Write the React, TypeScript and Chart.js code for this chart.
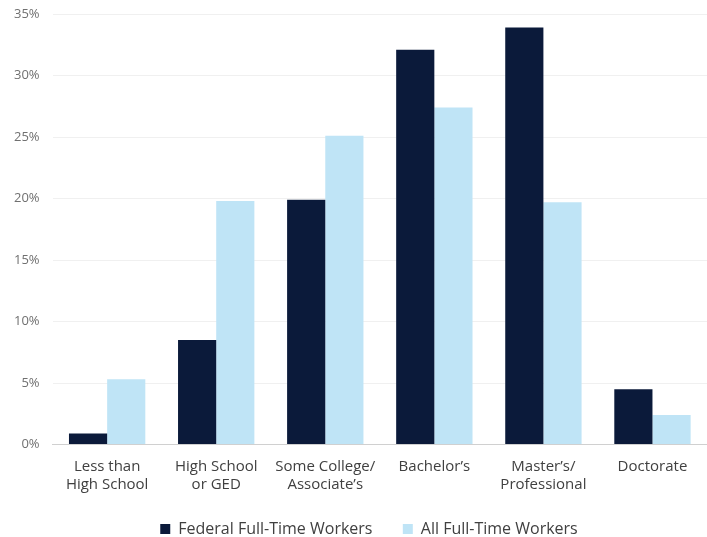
import React, { useEffect, useRef } from "react";
import { Chart, registerables } from "chart.js";

Chart.register(...registerables);

const categories: string[][] = [
  ["Less than", "High School"],
  ["High School", "or GED"],
  ["Some College/", "Associate’s"],
  ["Bachelor’s"],
  ["Master’s/", "Professional"],
  ["Doctorate"],
];
const federalValues = [0.9, 8.5, 19.9, 32.1, 33.9, 4.5];
const allValues = [5.3, 19.8, 25.1, 27.4, 19.7, 2.4];
const seriesNames = ["Federal Full-Time Workers  ", "All Full-Time Workers"];

const legendShift = {
  id: "legendShift",
  afterLayout(chart: any) {
    const l = chart.legend;
    if (l) {
      l.left += 15;
      l.right += 15;
    }
  },
};

export default function App() {
  const ref = useRef<HTMLCanvasElement | null>(null);
  useEffect(() => {
    document.body.style.margin = "0";
    const font = "'Open Sans', 'Noto Sans', sans-serif";
    const chart = new Chart(ref.current!, {
      type: "bar",
      data: {
        labels: categories,
        datasets: [
          { label: seriesNames[0], data: federalValues, backgroundColor: "#0b1a3a" },
          { label: seriesNames[1], data: allValues, backgroundColor: "#bfe4f6" },
        ],
      },
      plugins: [legendShift],
      options: {
        animation: false,
        responsive: false,
        maintainAspectRatio: false,
        layout: { padding: { top: 14, right: 0, left: 1, bottom: -10 } },
        datasets: { bar: { categoryPercentage: 0.7, barPercentage: 1.0 } },
        plugins: {
          legend: {
            position: "bottom",
            labels: {
              boxWidth: 10,
              boxHeight: 10,
              color: "#404040",
              font: { family: font, size: 16 },
              padding: 22,
            },
          },
          tooltip: { enabled: false },
        },
        scales: {
          x: {
            grid: { display: false },
            border: { color: "#d0d0d0" },
            ticks: {
              color: "#404040",
              font: { family: font, size: 15, lineHeight: 1.15 },
              maxRotation: 0,
              autoSkip: false,
              padding: 6,
            },
          },
          y: {
            min: 0,
            max: 35,
            afterFit: (s: any) => {
              s.paddingTop = 0;
              s.paddingBottom = 0;
            },
            ticks: {
              stepSize: 5,
              color: "#707070",
              font: { family: font, size: 13 },
              padding: 13,
              callback: (v: any) => v + "%",
            },
            grid: { color: "#f0f0f0", drawTicks: false },
            border: { display: false },
          },
        },
      },
    });
    return () => chart.destroy();
  }, []);
  return (
    <div style={{ width: 707, height: 537 }}>
      <canvas ref={ref} width={707} height={537} />
    </div>
  );
}
